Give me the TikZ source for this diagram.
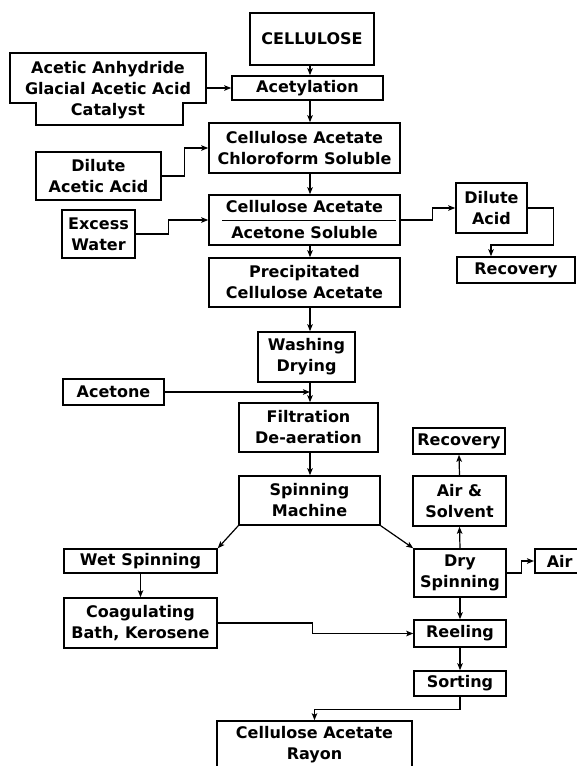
\documentclass[tikz,border=0pt]{standalone}
\usepackage{fontspec}
\setmainfont{DejaVu Sans}
\usetikzlibrary{arrows.meta,calc}
\tikzset{
  box/.style={draw, line width=1.5pt, inner sep=0pt, align=center,
    font=\fontsize{16}{21}\selectfont\bfseries},
  lbl/.style={inner sep=0pt, align=center, font=\fontsize{16}{21}\selectfont\bfseries},
  arr/.style={line width=1.2pt, -{Stealth[length=7pt,width=5.5pt,inset=1.5pt]}},
  ln/.style={line width=1.2pt},
}
\begin{document}
\begin{tikzpicture}[x=1pt,y=-1pt]
\useasboundingbox (0,0) rectangle (576,766);
\coordinate (col) at (310,0);
% main column
\node[box, minimum width=124, minimum height=52] (cell) at (312,39) {CELLULOSE};
\node[box, minimum width=151, minimum height=24] (acyl) at (307.5,88) {Acetylation};
\node[box, minimum width=191, minimum height=50] (chlo) at (304.5,148) {Cellulose Acetate\\Chloroform Soluble};
\node[box, minimum width=191, minimum height=50] (acs) at (304.5,220) {Cellulose Acetate\\[5pt]Acetone Soluble};
\node[box, minimum width=191, minimum height=49] (prec) at (304.5,282.5) {Precipitated\\Cellulose Acetate};
\node[box, minimum width=97, minimum height=50] (wash) at (306.5,357) {Washing\\Drying};
\node[box, minimum width=139, minimum height=49] (filt) at (308.5,427.5) {Filtration\\De-aeration};
\node[box, minimum width=141, minimum height=49] (spin) at (309.5,500.5) {Spinning\\Machine};
% left inputs
\node[lbl] (acet) at (108,90) {Acetic Anhydride\\Glacial Acetic Acid\\Catalyst};
\draw[line width=1.5pt] (10,53) -- (206,53) -- (206,103) -- (183,103) -- (183,125)
  -- (36,125) -- (36,103) -- (10,103) -- cycle;
\coordinate (acetR) at (206,88);
\node[box, minimum width=125, minimum height=48] (dil) at (98.5,176) {Dilute\\Acetic Acid};
\node[box, minimum width=73, minimum height=48] (exw) at (98.5,234) {Excess\\Water};
\node[box, minimum width=101, minimum height=26] (acetone) at (113.5,392) {Acetone};
% right side
\node[box, minimum width=71, minimum height=50] (dila) at (491.5,208) {Dilute\\Acid};
\node[box, minimum width=118, minimum height=26] (rec1) at (516,270) {Recovery};
\node[box, minimum width=92, minimum height=26] (rec2) at (459,441) {Recovery};
\node[box, minimum width=93, minimum height=50] (airsol) at (459.5,501) {Air \&\\Solvent};
\node[box, minimum width=92, minimum height=48] (dry) at (460,573) {Dry\\Spinning};
\node[box, minimum height=24, inner xsep=12pt, anchor=west] (air) at (534,561) {Air\hspace{24pt}};
\node[box, minimum width=92, minimum height=27] (reel) at (460,633.5) {Reeling};
\node[box, minimum width=92, minimum height=25] (sort) at (460,683.5) {Sorting};
% wet branch
\node[box, minimum width=153, minimum height=24] (wet) at (140.5,561) {Wet\hspace{6pt}Spinning};
\node[box, minimum width=153, minimum height=50] (coag) at (140.5,623) {Coagulating\\Bath, Kerosene};
\node[box, minimum width=195, minimum height=48] (rayon) at (314.5,745) {Cellulose Acetate\\Rayon};
% divider in acetone soluble box
\draw[line width=1pt] (222,220) -- (396,220);
% connectors main column
\draw[arr] (cell.south -| col) -- (acyl.north -| col);
\draw[arr] (acyl.south -| col) -- (chlo.north -| col);
\draw[arr] (chlo.south -| col) -- (acs.north -| col);
\draw[arr] (acs.south -| col) -- (prec.north -| col);
\draw[arr] (prec.south -| col) -- (wash.north -| col);
\draw[arr] (wash.south -| col) -- (filt.north -| col);
\draw[arr] (filt.south -| col) -- (spin.north -| col);
% inputs
\draw[arr] (acetR) -- (acyl.west);
\draw[arr] (dil.east) -- ++(23,0) |- (chlo.west);
\draw[arr] (exw.east) -- ++(33,0) |- (acs.west);
\draw[arr] (acetone.east) -- (acetone.east -| col);
% dilute acid branch
\draw[arr] (acs.east) -- ++(32,0) |- (dila.west);
\draw[arr] (dila.east) -- ++(26,0) -- ++(0,37) -| ($(rec1.north)+(-25,0)$);
% spinning
\draw[arr] (spin.south west) -- (wet.north east);
\draw[arr] (spin.south east) -- (dry.north west);
\draw[arr] (dry.north) -- (airsol.south);
\draw[arr] (airsol.north) -- (rec2.south);
\draw[arr] (dry.east) -- ++(15,0) |- (air.west);
\draw[arr] (dry.south) -- (reel.north);
\draw[arr] (wet.south) -- (coag.north);
\draw[arr] (coag.east) -- ++(95,0) |- (reel.west);
\draw[arr] (reel.south) -- (sort.north);
\draw[arr] (sort.south) -- ++(0,12.5) -| (rayon.north);
\end{tikzpicture}
\end{document}
